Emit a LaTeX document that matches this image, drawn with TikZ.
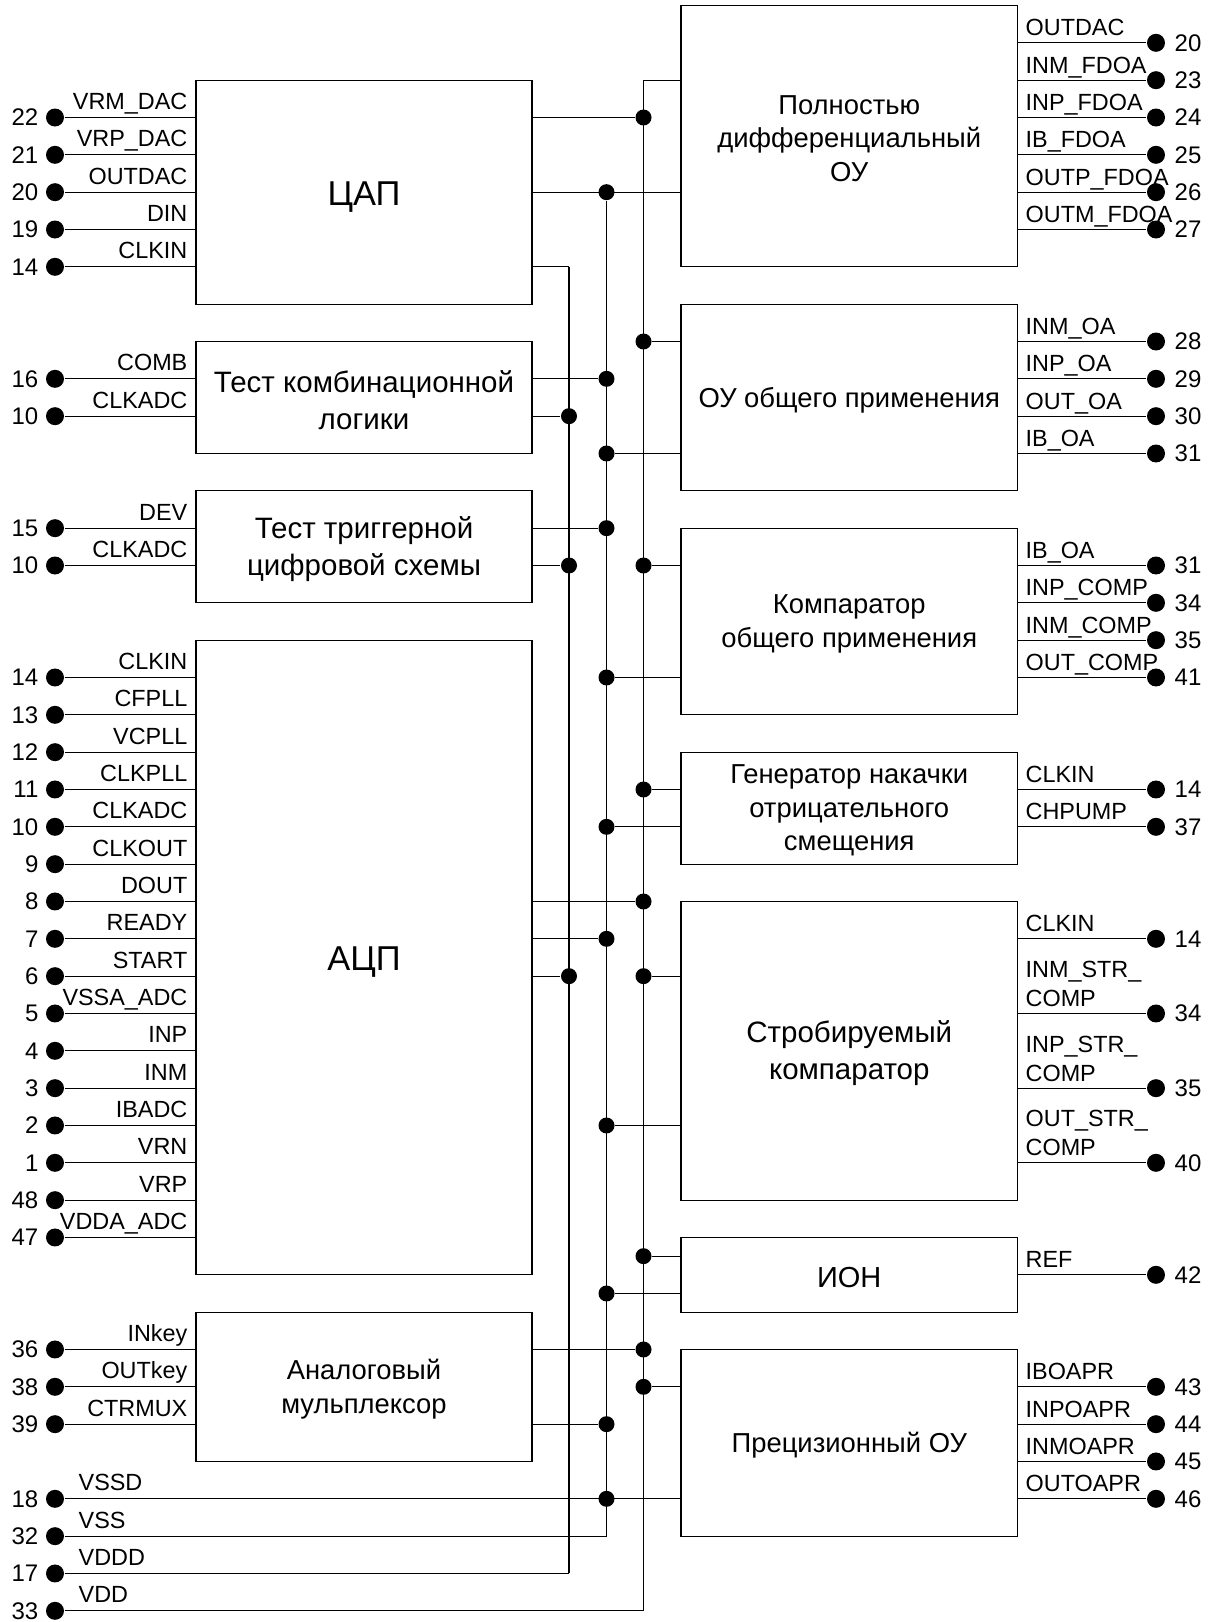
\documentclass[tikz,border=0pt]{standalone}
\usepackage{fontspec}
\setmainfont{Liberation Sans}
\usetikzlibrary{fit}

% pin on the left edge of a block: name, row, pin number, signal, block
\newcommand\leftpin[5]{%
  \node[pdot] (#1) at (55,#2) {};
  \node[num, anchor=east] (#1n) at (39,#2) {#3};
  \node[lbl, anchor=base east, yshift=8pt] (#1l) at (188,#2) {#4};
  \draw (#1) -- (#1 -| #5.west);
}
% pin on the right edge of a block: name, row, pin number, signal, block
\newcommand\rightpin[5]{%
  \node[pdot] (#1) at (1156,#2) {};
  \node[num, anchor=west] (#1n) at (1174,#2) {#3};
  \node[lbl, anchor=base west, yshift=7pt] (#1l) at (1025,#2) {#4};
  \draw (#5.east |- #1) -- (#1);
}

\begin{document}
\begin{tikzpicture}[x=1pt, y=-37.333pt, line width=1.3pt,
  blk/.style={draw, line width=1.3pt, inner sep=0pt},
  btxt/.style={inner sep=0pt, align=center, yshift=-2.5pt,
    font=\fontsize{27.4}{33.5}\selectfont},
  bigger/.style={font=\fontsize{29.5}{36.5}\selectfont},
  big/.style={yshift=-2pt, font=\fontsize{34.5}{40}\selectfont},
  pdot/.style={circle, fill, inner sep=0pt, minimum size=18pt},
  jdot/.style={circle, fill, inner sep=0pt, minimum size=16pt},
  lbl/.style={inner sep=0pt, font=\fontsize{23.4}{28}\selectfont},
  num/.style={inner sep=0pt, font=\fontsize{24}{28}\selectfont}]

\useasboundingbox[fill=white] (0,-3.14735) rectangle (1212,40.29968);

% ---- left column of blocks
\node[blk, fit={(196,-1) (532,5)}] (dac) {};
\node[blk, fit={(196,6) (532,9)}] (comb) {};
\node[blk, fit={(196,10) (532,13)}] (trig) {};
\node[blk, fit={(196,14) (532,31)}] (adc) {};
\node[blk, fit={(196,32) (532,36)}] (mux) {};

\node[btxt, big] (dact) at (dac.center) {ЦАП};
\node[btxt, bigger] (combt) at (comb.center) {Тест комбинационной\\логики};
\node[btxt, bigger] (trigt) at (trig.center) {Тест триггерной\\цифровой схемы};
\node[btxt, big] (adct) at (adc.center) {АЦП};
\node[btxt] (muxt) at (mux.center) {Аналоговый\\мульплексор};

% ---- right column of blocks
\node[blk, fit={(681,-3) (1017.5,4)}] (fdoa) {};
\node[blk, fit={(681,5) (1017.5,10)}] (oa) {};
\node[blk, fit={(681,11) (1017.5,16)}] (comp) {};
\node[blk, fit={(681,17) (1017.5,20)}] (gen) {};
\node[blk, fit={(681,21) (1017.5,29)}] (strb) {};
\node[blk, fit={(681,30) (1017.5,32)}] (ion) {};
\node[blk, fit={(681,33) (1017.5,38)}] (prec) {};

\node[btxt] (fdoat) at (fdoa.center) {Полностью\\дифференциальный\\ОУ};
\node[btxt] (oat) at (oa.center) {ОУ общего применения};
\node[btxt] (compt) at (comp.center) {Компаратор\\общего применения};
\node[btxt] (gent) at (gen.center) {Генератор накачки\\отрицательного\\смещения};
\node[btxt, bigger] (strbt) at (strb.center) {Стробируемый\\компаратор};
\node[btxt, font=\fontsize{29}{34}\selectfont] (iont) at (ion.center) {ИОН};
\node[btxt] (prect) at (prec.center) {Прецизионный ОУ};

% ---- external pins, left side
\foreach[count=\i] \r/\n/\t in {0/22/VRM\_DAC,1/21/VRP\_DAC,2/20/OUTDAC,3/19/DIN,4/14/CLKIN}
  {\leftpin{pdac\i}{\r}{\n}{\t}{dac}}
\foreach[count=\i] \r/\n/\t in {7/16/COMB,8/10/CLKADC}
  {\leftpin{pcomb\i}{\r}{\n}{\t}{comb}}
\foreach[count=\i] \r/\n/\t in {11/15/DEV,12/10/CLKADC}
  {\leftpin{ptrig\i}{\r}{\n}{\t}{trig}}
\foreach[count=\i] \r/\n/\t in {15/14/CLKIN,16/13/CFPLL,17/12/VCPLL,18/11/CLKPLL,
    19/10/CLKADC,20/9/CLKOUT,21/8/DOUT,22/7/READY,23/6/START,24/5/VSSA\_ADC,
    25/4/INP,26/3/INM,27/2/IBADC,28/1/VRN,29/48/VRP,30/47/VDDA\_ADC}
  {\leftpin{padc\i}{\r}{\n}{\t}{adc}}
\foreach[count=\i] \r/\n/\t in {33/36/INkey,34/38/OUTkey,35/39/CTRMUX}
  {\leftpin{pmux\i}{\r}{\n}{\t}{mux}}

% ---- external pins, right side
\foreach[count=\i] \r/\n/\t in {-2/20/OUTDAC,-1/23/INM\_FDOA,0/24/INP\_FDOA,
    1/25/IB\_FDOA,2/26/OUTP\_FDOA,3/27/OUTM\_FDOA}
  {\rightpin{pfdoa\i}{\r}{\n}{\t}{fdoa}}
\foreach[count=\i] \r/\n/\t in {6/28/INM\_OA,7/29/INP\_OA,8/30/OUT\_OA,9/31/IB\_OA}
  {\rightpin{poa\i}{\r}{\n}{\t}{oa}}
\foreach[count=\i] \r/\n/\t in {12/31/IB\_OA,13/34/INP\_COMP,14/35/INM\_COMP,15/41/OUT\_COMP}
  {\rightpin{pcomp\i}{\r}{\n}{\t}{comp}}
\foreach[count=\i] \r/\n/\t in {18/14/CLKIN,19/37/CHPUMP}
  {\rightpin{pgen\i}{\r}{\n}{\t}{gen}}
\foreach[count=\i] \r/\n/\t in {22/14/CLKIN,24/34/COMP,26/35/COMP,28/40/COMP}
  {\rightpin{pstrb\i}{\r}{\n}{\t}{strb}}
\node[lbl, anchor=base west, yshift=36pt] (strbtop2) at (1025,24) {INM\_STR\_};
\node[lbl, anchor=base west, yshift=36pt] (strbtop3) at (1025,26) {INP\_STR\_};
\node[lbl, anchor=base west, yshift=36pt] (strbtop4) at (1025,28) {OUT\_STR\_};
\rightpin{pion1}{31}{42}{REF}{ion}
\foreach[count=\i] \r/\n/\t in {34/43/IBOAPR,35/44/INPOAPR,36/45/INMOAPR,37/46/OUTOAPR}
  {\rightpin{pprec\i}{\r}{\n}{\t}{prec}}

% ---- supply pins
\foreach \nm/\r/\n/\t in {pvssd/37/18/VSSD,pvss/38/32/VSS,pvddd/39/17/VDDD,pvdd/40/33/VDD}{
  \node[pdot] (\nm) at (55,\r) {};
  \node[num, anchor=east] (\nm n) at (39,\r) {\n};
  \node[lbl, anchor=base west, yshift=8pt] (\nm l) at (78,\r) {\t};
}

% ---- bus ends
\coordinate (atop) at (569,4);
\coordinate (abot) at (569,39);
\coordinate (bbot) at (606.5,38);
\coordinate (ctop) at (643.5,-1);
\coordinate (cbot) at (643.5,40);

% ---- junctions on bus A
\foreach \r in {8,12,23} \node[jdot] (ja\r) at (569,\r) {};
% ---- junctions on bus B
\foreach \r in {2,7,9,11,15,19,22,27,35,37} \node[jdot] (jb\r) at (606.5,\r) {};
\node[jdot] (jbion) at (606.5,31.5) {};
% ---- junctions on bus C
\foreach \r in {0,6,12,18,21,23,33,34} \node[jdot] (jc\r) at (643.5,\r) {};
\node[jdot] (jcion) at (643.5,30.5) {};

% ---- vertical buses
\draw (atop) -- (abot);
\draw (jb2) -- (bbot);
\draw (ctop) -- (cbot);

% ---- left blocks to buses
\draw (dac.east |- jc0) -- (jc0);
\draw (dac.east |- jb2) -- (fdoa.west |- jb2);
\draw (dac.east |- atop) -- (atop);
\draw (comb.east |- jb7) -- (jb7);
\draw (comb.east |- ja8) -- (ja8);
\draw (trig.east |- jb11) -- (jb11);
\draw (trig.east |- ja12) -- (ja12);
\draw (adc.east |- jc21) -- (jc21);
\draw (adc.east |- jb22) -- (jb22);
\draw (adc.east |- ja23) -- (ja23);
\draw (mux.east |- jc33) -- (jc33);
\draw (mux.east |- jb35) -- (jb35);

% ---- supply lines
\draw (pvssd) -- (prec.west |- pvssd);
\draw (pvss) -- (bbot);
\draw (pvddd) -- (abot);
\draw (pvdd) -- (cbot);

% ---- buses to right blocks
\draw (ctop) -- (fdoa.west |- ctop);
\draw (jc6) -- (oa.west |- jc6);
\draw (jb9) -- (oa.west |- jb9);
\draw (jc12) -- (comp.west |- jc12);
\draw (jb15) -- (comp.west |- jb15);
\draw (jc18) -- (gen.west |- jc18);
\draw (jb19) -- (gen.west |- jb19);
\draw (jc23) -- (strb.west |- jc23);
\draw (jb27) -- (strb.west |- jb27);
\draw (jcion) -- (ion.west |- jcion);
\draw (jbion) -- (ion.west |- jbion);
\draw (jc34) -- (prec.west |- jc34);

\end{tikzpicture}
\end{document}
